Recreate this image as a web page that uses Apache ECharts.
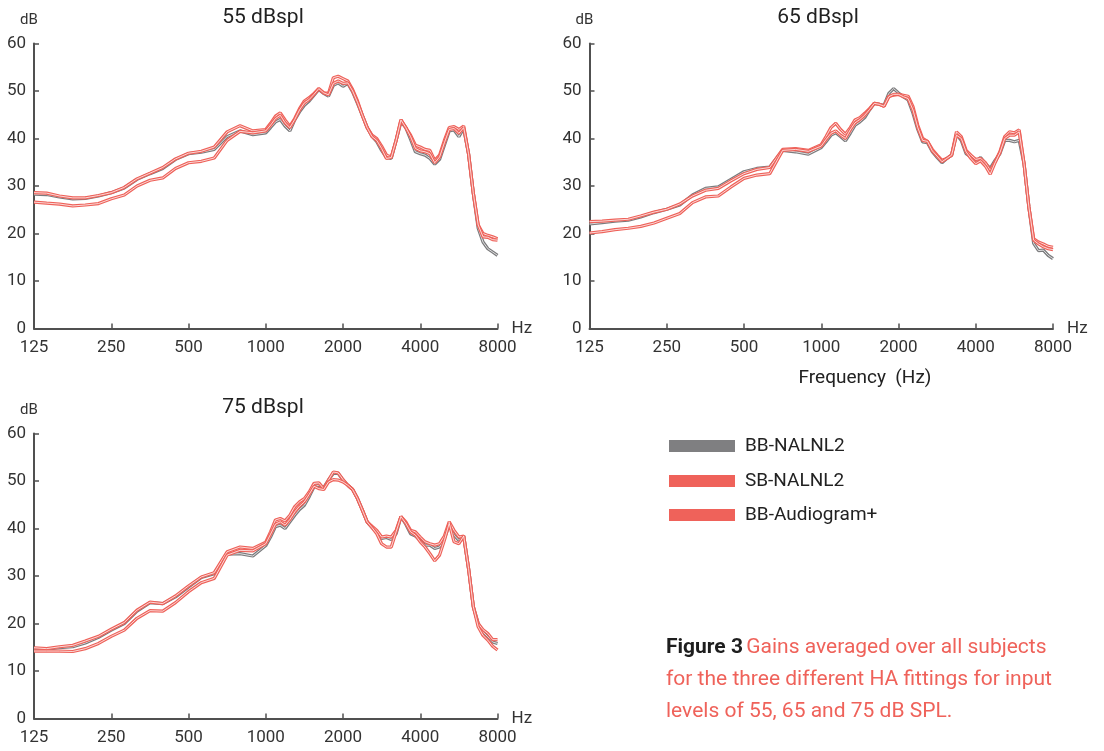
<!DOCTYPE html>
<html>
<head>
<meta charset="utf-8">
<script src="https://cdn.jsdelivr.net/npm/echarts@6/dist/echarts.min.js"></script>
<style>
html,body{margin:0;padding:0;background:#fff;}
#c{width:1104px;height:751px;}
</style>
</head>
<body>
<div id="c"></div>
<script>
// Frequencies (Hz) shared by all curves
const freqs = [125,140,157,177,198,223,250,281,315,354,397,445,500,561,630,707,794,891,1000,
  1044,1091,1139,1189,1242,1297,1354,1414,1477,1542,1610,1682,1756,1834,1915,2000,
  2089,2181,2278,2378,2484,2594,2709,2828,2954,3084,3221,3364,3513,3668,3830,4000,
  4177,4362,4555,4757,4967,5187,5417,5657,5907,6169,6442,6727,7025,7336,7661,8000];

const xTickLabels = ['125','250','500','1000','2000','4000','8000'];
const seriesNames = ['BB-NALNL2','SB-NALNL2','BB-Audiogram+'];
const panelTitles = ['55 dBspl','65 dBspl','75 dBspl'];

// 55 dB SPL
const p55_bbNal = [28.3,28.2,27.7,27.3,27.4,27.9,28.6,29.6,31.4,32.6,33.7,35.6,36.8,37.1,37.7,40.4,41.6,40.8,41.2,
  42.3,43.5,44.0,42.6,41.6,43.9,45.6,47.0,47.9,49.1,50.3,49.5,48.9,51.2,51.7,51.0,
  51.6,49.8,47.4,44.9,42.3,40.5,39.3,37.5,36.0,35.8,39.6,43.5,42.3,39.8,37.2,36.8,
  36.5,35.8,34.6,35.6,38.6,41.6,41.8,40.4,42.1,36.8,28.4,21.1,18.2,16.8,16.1,15.4];
const p55_sbNal = [28.6,28.5,27.9,27.5,27.5,28.0,28.6,29.7,31.5,32.7,33.9,35.7,36.9,37.3,38.2,41.4,42.7,41.6,41.9,
  43.2,44.7,45.4,43.9,42.6,44.2,46.3,47.9,48.6,49.5,50.5,49.6,49.5,52.8,53.1,52.6,
  52.1,50.3,47.9,44.9,42.3,40.7,40.0,38.4,36.5,36.1,39.6,43.9,42.3,40.7,38.6,38.2,
  37.7,37.5,35.4,36.5,39.6,42.3,42.5,41.9,42.6,36.8,28.4,21.8,20.0,19.6,19.3,18.9];
const p55_bbAud = [26.6,26.4,26.2,25.8,26.0,26.3,27.3,28.1,30.0,31.2,31.7,33.7,34.9,35.2,35.9,39.6,41.5,41.2,41.6,
  42.8,44.2,44.9,43.3,42.3,44.0,46.0,47.5,48.2,49.3,50.5,49.6,49.2,51.6,52.1,51.6,
  51.7,50.0,47.6,44.9,42.3,40.4,39.6,37.9,35.8,36.0,39.6,43.9,42.3,40.4,37.9,37.4,
  37.2,36.8,34.9,36.1,39.1,41.9,42.1,41.1,42.3,36.8,28.4,21.8,19.3,19.2,18.7,18.6];

// 65 dB SPL
const p65_bbNal = [22.0,22.3,22.6,22.8,23.5,24.4,25.1,26.0,28.1,29.5,29.8,31.4,33.0,33.7,34.0,37.5,37.2,36.7,38.1,
  39.3,40.7,41.2,40.4,39.5,41.1,42.8,43.5,44.4,46.0,47.4,47.2,47.0,49.5,50.5,49.6,
  48.8,48.1,45.3,41.9,39.3,39.1,37.2,36.0,34.9,35.8,36.5,40.9,39.6,36.8,36.1,35.1,
  36.0,34.7,33.7,35.4,36.8,39.6,39.6,39.3,39.6,34.7,25.6,17.9,16.4,16.5,15.4,14.7];
const p65_sbNal = [22.5,22.6,22.8,23.0,23.7,24.5,25.1,26.2,27.9,29.1,29.5,31.1,32.6,33.5,33.9,37.7,37.9,37.5,38.7,
  40.4,42.3,43.2,41.9,40.9,42.3,43.9,44.4,45.3,46.3,47.4,47.2,46.8,48.9,49.1,49.3,
  49.1,48.9,46.7,42.8,40.0,39.4,37.7,36.5,35.4,35.8,36.5,41.4,40.4,37.5,36.5,35.6,
  35.8,34.9,33.3,35.1,37.2,40.4,41.4,41.2,41.8,34.7,25.6,18.9,18.2,17.8,17.3,17.1];
const p65_bbAud = [20.1,20.4,20.8,21.1,21.5,22.2,23.2,24.2,26.5,27.7,27.9,29.8,31.6,32.3,32.6,37.5,37.7,37.3,38.4,
  39.8,41.1,41.6,40.7,40.0,41.8,43.3,44.0,44.9,46.1,47.4,47.2,46.8,48.8,49.3,49.3,
  48.8,48.4,46.0,42.3,39.6,39.4,37.4,36.3,35.1,35.8,36.5,40.7,40.0,37.2,35.8,34.7,
  35.3,34.2,32.5,34.9,37.0,40.0,40.7,40.7,41.4,34.7,25.6,18.6,17.8,17.2,16.8,16.6];

// 75 dB SPL
const p75_bbNal = [14.7,14.6,14.9,15.1,15.9,17.1,18.6,20.0,22.6,24.4,24.2,25.6,27.7,29.7,30.5,34.6,34.7,34.2,36.4,
  38.2,40.4,40.7,40.0,41.4,42.8,44.0,44.9,46.7,48.8,49.1,48.6,50.2,51.6,51.6,50.2,
  49.1,48.2,46.3,43.9,41.4,40.2,39.3,37.9,38.1,37.7,38.9,42.5,40.9,38.9,38.4,37.5,
  36.5,36.5,35.8,36.1,37.9,40.7,38.6,37.5,38.4,31.6,23.5,20.0,18.2,17.2,16.1,15.8];
const p75_sbNal = [14.9,14.7,15.1,15.4,16.3,17.3,18.8,20.2,22.8,24.5,24.2,25.8,27.9,29.8,30.7,35.1,36.1,35.8,37.1,
  39.3,41.8,42.1,41.6,42.8,44.6,45.6,46.3,47.7,49.5,49.6,48.4,50.2,51.9,51.7,50.3,
  49.1,48.2,46.3,43.9,41.4,40.5,39.6,38.2,38.4,38.2,39.6,42.5,41.4,39.6,39.3,38.2,
  37.2,36.8,36.5,36.8,38.4,41.4,39.6,38.2,38.4,31.6,23.5,20.0,18.7,17.9,16.6,16.6];
const p75_bbAud = [14.2,14.2,14.2,14.1,14.7,15.8,17.3,18.6,21.1,22.7,22.6,24.4,26.7,28.6,29.5,34.4,35.4,35.3,36.8,
  38.8,40.9,41.4,40.7,41.9,43.5,44.7,45.6,47.2,48.9,48.4,48.2,49.8,50.3,50.2,49.8,
  49.1,48.2,46.3,43.9,41.4,40.2,38.9,36.8,36.1,36.1,39.3,42.5,41.1,39.3,38.6,37.2,
  36.1,34.7,33.2,34.4,37.5,41.1,37.2,36.8,38.4,31.6,23.5,19.3,17.5,16.5,15.2,14.4];

const panels = [
  [p55_bbNal, p55_sbNal, p55_bbAud],
  [p65_bbNal, p65_sbNal, p65_bbAud],
  [p75_bbNal, p75_sbNal, p75_bbAud]
];

const colors = ['#7b7b7d', '#ee6159', '#ee6159'];
const swatchColors = ['#7f7f81', '#ef625a', '#ef625a'];
const FONT = 'Roboto';

const grids = [
  {left: 34, top: 43.5, width: 463.5, height: 285},
  {left: 589.5, top: 43.5, width: 463.5, height: 285},
  {left: 34, top: 433.5, width: 463.5, height: 285}
];

const axisColor = '#505050';
const xAxes = [], yAxes = [], series = [];
grids.forEach((g, i) => {
  xAxes.push({
    type: 'value', gridIndex: i, min: 0, max: 6, interval: 1,
    name: 'Hz', nameLocation: 'end', nameGap: 14,
    nameTextStyle: {fontFamily: FONT, fontSize: 17, color: '#333', verticalAlign: 'middle', padding: [4,0,0,0]},
    axisLine: {show: true, onZero: false, lineStyle: {color: axisColor, width: 2}},
    axisTick: {show: true, inside: true, length: 5, lineStyle: {color: axisColor, width: 1.5}},
    axisLabel: {fontFamily: FONT, fontSize: 17, color: '#333', margin: 11,
      formatter: v => xTickLabels[Math.round(v)] || ''},
    splitLine: {show: false}
  });
  yAxes.push({
    type: 'value', gridIndex: i, min: 0, max: 60, interval: 10,
    name: 'dB', nameLocation: 'end', nameGap: 16,
    nameTextStyle: {fontFamily: FONT, fontSize: 15, color: '#333', align: 'center', padding: [0, 10, 0, 0]},
    axisLine: {show: true, lineStyle: {color: axisColor, width: 2}},
    axisTick: {show: true, inside: true, length: 5, lineStyle: {color: axisColor, width: 1.5}},
    axisLabel: {fontFamily: FONT, fontSize: 17, color: '#333', margin: 8},
    splitLine: {show: false}
  });
  panels[i].forEach((vals, c) => {
    const data = freqs.map((f, k) => [Math.log2(f / 125), vals[k]]);
    series.push({
      type: 'line', name: seriesNames[c], xAxisIndex: i, yAxisIndex: i, data,
      showSymbol: false, symbol: 'none', silent: true, z: 2 + c * 2,
      itemStyle: {color: colors[c]},
      lineStyle: {color: colors[c], width: 3.2}
    });
    series.push({
      type: 'line', name: seriesNames[c] + ' core', xAxisIndex: i, yAxisIndex: i, data,
      showSymbol: false, symbol: 'none', silent: true, z: 3 + c * 2,
      itemStyle: {color: '#ffffff'},
      lineStyle: {color: '#ffffff', width: 0.9, opacity: 0.85}
    });
  });
});

const titlePos = [[263, 18], [818, 18], [263, 408]];
const graphic = titlePos.map((p, i) => ({
  type: 'text', x: p[0], y: p[1],
  style: {text: panelTitles[i], fill: '#222', font: '21px ' + FONT, textAlign: 'center', textVerticalAlign: 'middle'}
}));
graphic.push({
  type: 'text', x: 865, y: 378,
  style: {text: 'Frequency  (Hz)', fill: '#222', font: '19px ' + FONT, textAlign: 'center', textVerticalAlign: 'middle'}
});
// legend swatches + labels
const legendY = [446, 481, 515];
seriesNames.forEach((n, c) => {
  graphic.push({
    type: 'rect', z: 10, shape: {x: 669, y: legendY[c] - 6, width: 66, height: 12},
    style: {fill: swatchColors[c]}
  });
  graphic.push({
    type: 'text', z: 10, x: 745, y: legendY[c],
    style: {text: n, fill: '#222', font: '19px ' + FONT, textVerticalAlign: 'middle'}
  });
});
graphic.push({
  type: 'text', x: 666, y: 632,
  style: {
    text: '{b|Figure 3} {r|Gains averaged over all subjects}\n{r|for the three different HA fittings for input}\n{r|levels of 55, 65 and 75 dB SPL.}',
    rich: {
      b: {fontFamily: FONT, fontSize: 21, fontWeight: 'bold', fill: '#1e1e1e', lineHeight: 32},
      r: {fontFamily: FONT, fontSize: 21, fill: '#ef625a', lineHeight: 32}
    }
  }
});

const chart = echarts.init(document.getElementById('c'), null, {renderer: 'canvas'});
chart.setOption({
  animation: false,
  backgroundColor: '#ffffff',
  grid: grids,
  xAxis: xAxes,
  yAxis: yAxes,
  graphic,
  series
});
</script>
</body>
</html>
